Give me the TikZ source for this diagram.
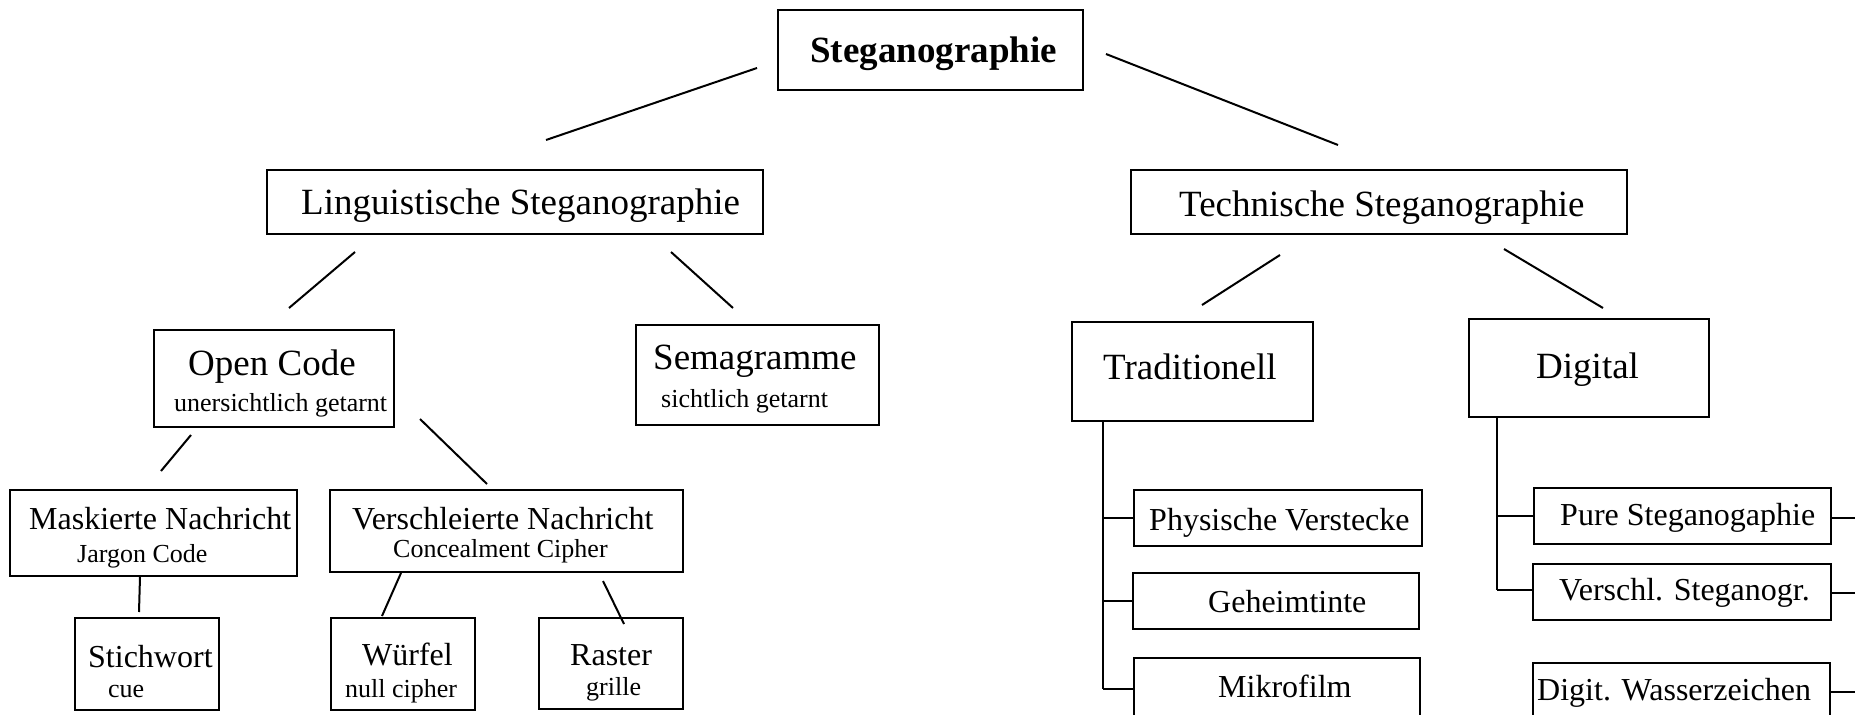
\documentclass[tikz,border=0pt]{standalone}
\usepackage{fontspec}
\setmainfont{Liberation Serif}
\begin{document}
\begin{tikzpicture}[x=1bp,y=-1bp,
  frame/.style={draw, line width=2bp, inner sep=0pt, anchor=north west},
  link/.style={line width=2bp},
  big/.style={anchor=base west, inner sep=0pt, font=\fontsize{37bp}{44bp}\selectfont},
  mid/.style={anchor=base west, inner sep=0pt, font=\fontsize{32bp}{38bp}\selectfont},
  small/.style={anchor=base west, inner sep=0pt, font=\fontsize{26bp}{31bp}\selectfont}]
\useasboundingbox (0,0) rectangle (1855,715);
\clip (0,0) rectangle (1855,715);
\fill[white] (0,0) rectangle (1855,715);

% boxes: top-left corner, width, height
\node[frame, minimum width=305bp, minimum height=80bp] (root) at (777,9) {};
\node[frame, minimum width=496bp, minimum height=64bp] (ling) at (266,169) {};
\node[frame, minimum width=496bp, minimum height=64bp] (tech) at (1130,169) {};
\node[frame, minimum width=240bp, minimum height=97bp] (open) at (153,329) {};
\node[frame, minimum width=243bp, minimum height=100bp] (sema) at (635,324) {};
\node[frame, minimum width=241bp, minimum height=99bp] (trad) at (1071,321) {};
\node[frame, minimum width=240bp, minimum height=98bp] (digi) at (1468,318) {};
\node[frame, minimum width=287bp, minimum height=86bp] (mask) at (9,489) {};
\node[frame, minimum width=353bp, minimum height=82bp] (versch) at (329,489) {};
\node[frame, minimum width=144bp, minimum height=92bp] (stich) at (74,617) {};
\node[frame, minimum width=144bp, minimum height=92bp] (wuerfel) at (330,617) {};
\node[frame, minimum width=144bp, minimum height=91bp] (raster) at (538,617) {};
\node[frame, minimum width=288bp, minimum height=56bp] (phys) at (1133,489) {};
\node[frame, minimum width=286bp, minimum height=56bp] (geh) at (1132,572) {};
\node[frame, minimum width=286bp, minimum height=64bp] (mikro) at (1133,657) {};
\node[frame, minimum width=297bp, minimum height=56bp] (pure) at (1533,487) {};
\node[frame, minimum width=298bp, minimum height=56bp] (vsteg) at (1532,563) {};
\node[frame, minimum width=297bp, minimum height=58bp] (wasser) at (1532,662) {};

% labels
\node[big, font=\fontsize{37bp}{44bp}\selectfont\bfseries] (t-root) at (810,63) {Steganographie};
\node[big] (t-ling) at (301,214) {Linguistische Steganographie};
\node[big] (t-tech) at (1179,216) {Technische Steganographie};
\node[big] (t-open) at (188,375) {Open Code};
\node[small] (s-open) at (174,411) {unersichtlich getarnt};
\node[big] (t-sema) at (653,369) {Semagramme};
\node[small] (s-sema) at (661,407) {sichtlich getarnt};
\node[big] (t-trad) at (1103,379) {Traditionell};
\node[big] (t-digi) at (1536,378) {Digital};
\node[mid] (t-mask) at (29,529) {Maskierte Nachricht};
\node[small] (s-mask) at (77,562) {Jargon Code};
\node[mid] (t-versch) at (352,529) {Verschleierte Nachricht};
\node[small] (s-versch) at (393,557) {Concealment Cipher};
\node[mid] (t-stich) at (88,667) {Stichwort};
\node[small] (s-stich) at (108,697) {cue};
\node[mid] (t-wuerfel) at (362,665) {Würfel};
\node[small] (s-wuerfel) at (345,697) {null cipher};
\node[mid] (t-raster) at (570,665) {Raster};
\node[small] (s-raster) at (586,695) {grille};
\node[mid] (t-phys) at (1149,530) {Physische Verstecke};
\node[mid] (t-geh) at (1208,612) {Geheimtinte};
\node[mid] (t-mikro) at (1218,697) {Mikrofilm};
\node[mid] (t-pure) at (1560,525) {Pure Steganogaphie};
\node[mid] (t-vsteg) at (1559,600) {Verschl. Steganogr.};
\node[mid] (t-wasser) at (1537,700) {Digit. Wasserzeichen};

% free-standing connector ends
\coordinate (root-l) at (757,68);   \coordinate (ling-in) at (546,140);
\coordinate (root-r) at (1106,54);  \coordinate (tech-in) at (1338,145);
\coordinate (ling-l) at (355,252);  \coordinate (open-in) at (289,308);
\coordinate (ling-r) at (671,252);  \coordinate (sema-in) at (733,308);
\coordinate (tech-l) at (1280,255); \coordinate (trad-in) at (1202,305);
\coordinate (tech-r) at (1504,249); \coordinate (digi-in) at (1603,308);
\coordinate (open-l) at (191,435);  \coordinate (mask-in) at (161,471);
\coordinate (open-r) at (420,419);  \coordinate (versch-in) at (487,484);
\coordinate (mask-b) at (140,577);  \coordinate (stich-in) at (139,612);
\coordinate (versch-l) at (401,573); \coordinate (wuerfel-in) at (382,616);
\coordinate (versch-r) at (603,581); \coordinate (raster-in) at (624,624);

\draw[link] (root-l) -- (ling-in);
\draw[link] (root-r) -- (tech-in);
\draw[link] (ling-l) -- (open-in);
\draw[link] (ling-r) -- (sema-in);
\draw[link] (tech-l) -- (trad-in);
\draw[link] (tech-r) -- (digi-in);
\draw[link] (open-l) -- (mask-in);
\draw[link] (open-r) -- (versch-in);
\draw[link] (mask-b) -- (stich-in);
\draw[link] (versch-l) -- (wuerfel-in);
\draw[link] (versch-r) -- (raster-in);

% bracket trees below Traditionell and Digital
\coordinate (trad-spine) at (1103,420);
\coordinate (trad-end) at (1103,689);
\draw[link] (trad-spine) -- (trad-end);
\draw[link] (trad-spine |- phys.west) -- (phys.west);
\draw[link] (trad-spine |- geh.west) -- (geh.west);
\draw[link] (trad-end) -- (trad-end -| mikro.west);

\coordinate (digi-spine) at (1497,416);
\coordinate (digi-end) at (1497,590);
\draw[link] (digi-spine) -- (digi-end);
\draw[link] (digi-spine |- pure.west) -- (pure.west);
\draw[link] (digi-end) -- (digi-end -| vsteg.west);

% stubs leaving to the right
\coordinate (pure-out) at (1870,518);
\coordinate (vsteg-out) at (1870,593);
\coordinate (wasser-out) at (1870,692);
\draw[link] (pure.east |- pure-out) -- (pure-out);
\draw[link] (vsteg.east |- vsteg-out) -- (vsteg-out);
\draw[link] (wasser.east |- wasser-out) -- (wasser-out);
\end{tikzpicture}
\end{document}
